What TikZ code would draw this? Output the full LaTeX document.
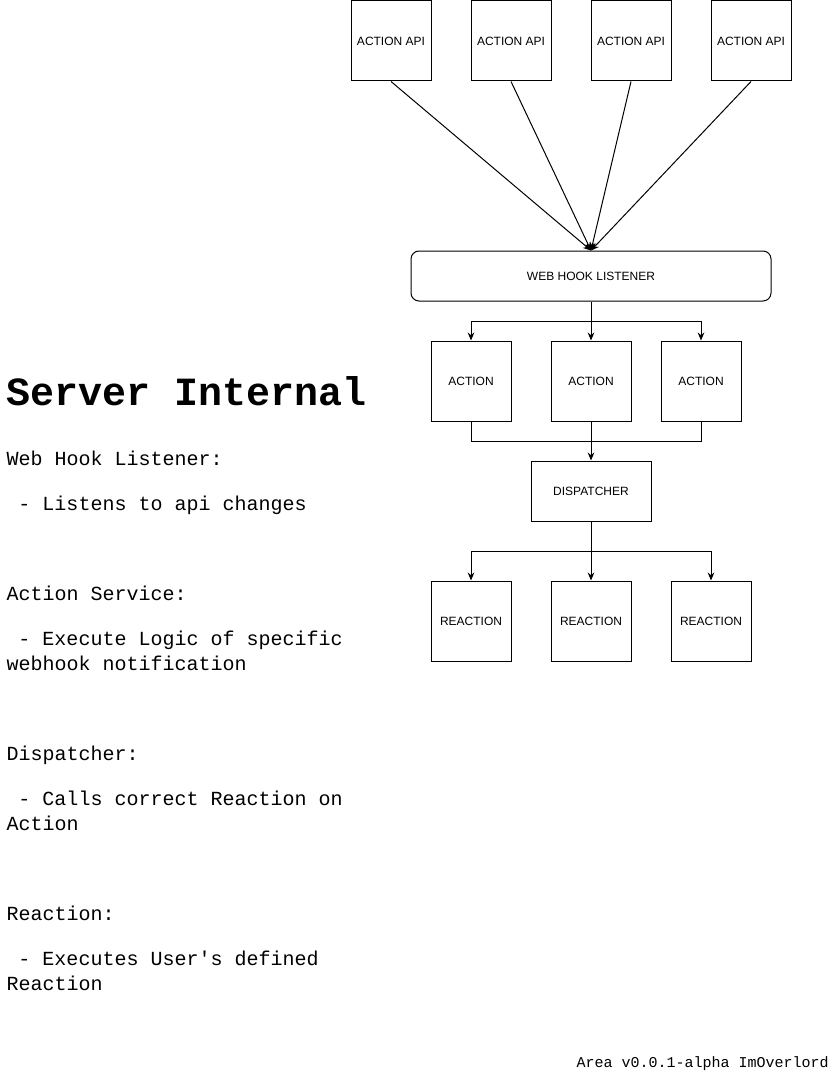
\documentclass[tikz,border=0pt]{standalone}
\usepackage{fontspec}
\newfontfamily\boxfont{Liberation Sans}
\newfontfamily\notefont{Liberation Mono}
\usetikzlibrary{arrows.meta}

\begin{document}
\begin{tikzpicture}[x=0.75pt, y=-0.75pt,
  every path/.style={line width=0.75pt},
  block/.style={draw, minimum width=60pt, minimum height=60pt, inner sep=0pt,
    font=\boxfont\fontsize{9}{11}\selectfont},
  wide/.style={block, minimum width=90pt, minimum height=45pt},
  hook/.style={block, rounded corners=6pt, minimum width=270pt, minimum height=37.5pt},
  link/.style={-{Stealth[length=6pt, width=5pt]}},
  note/.style={anchor=base west, inner sep=0pt, font=\notefont\fontsize{15}{18}\selectfont}]
\useasboundingbox (0,0) rectangle (833,1074);
% sources
\node[block] (api1) at (391,41) {ACTION API};
\node[block] (api2) at (511,41) {ACTION API};
\node[block] (api3) at (631,41) {ACTION API};
\node[block] (api4) at (751,41) {ACTION API};
\node[hook] (hook) at (591,276) {WEB HOOK LISTENER};
\foreach \n in {1,...,4}
  \draw[link] (api\n.south) -- (hook.north);
% actions
\node[block] (act1) at (471,381) {ACTION};
\node[block] (act2) at (591,381) {ACTION};
\node[block] (act3) at (701,381) {ACTION};
\coordinate (split) at (591,321);
\draw (hook.south) -- (split);
\foreach \n in {1,2,3}
  \draw[link] (split) -| (act\n.north);
% dispatcher
\node[wide] (disp) at (591,491) {DISPATCHER};
\coordinate (join) at (591,441);
\foreach \n in {1,2,3}
  \draw (act\n.south) |- (join);
\draw[link] (join) -- (disp.north);
% reactions
\node[block] (rea1) at (471,621) {REACTION};
\node[block] (rea2) at (591,621) {REACTION};
\node[block] (rea3) at (711,621) {REACTION};
\coordinate (fork) at (591,551);
\draw (disp.south) -- (fork);
\foreach \n in {1,2,3}
  \draw[link] (fork) -| (rea\n.north);
% notes
\node[anchor=base west, inner sep=0pt, font=\notefont\bfseries\fontsize{30}{34}\selectfont]
  (title) at (6,405) {Server Internal};
\foreach \x/\y/\txt [count=\i] in {
  6/465/Web Hook Listener:,
  18/510/- Listens to api changes,
  6/600/Action Service:,
  18/645/- Execute Logic of specific,
  6/670/webhook notification,
  6/760/Dispatcher:,
  18/805/- Calls correct Reaction on,
  6/830/Action,
  6/920/Reaction:,
  18/965/- Executes User's defined,
  6/990/Reaction}
  \node[note] (line\i) at (\x,\y) {\txt};
\node[note, font=\notefont\fontsize{11.25}{13}\selectfont] (footer) at (576,1067)
  {Area v0.0.1-alpha ImOverlord};
\end{tikzpicture}
\end{document}
